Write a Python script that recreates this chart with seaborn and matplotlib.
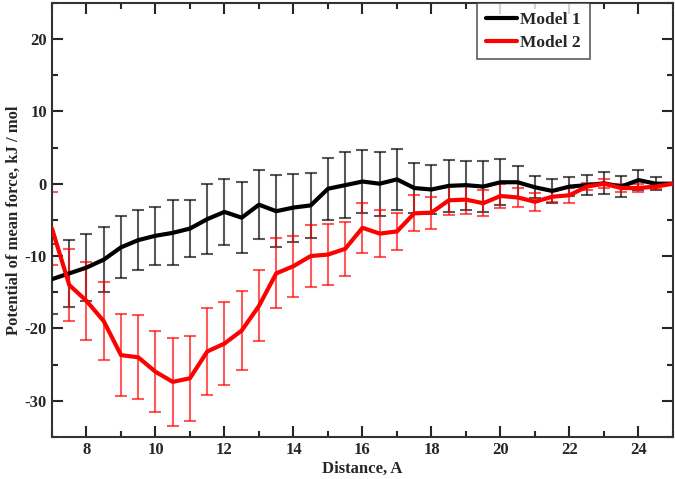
import numpy as np
import pandas as pd
import matplotlib
matplotlib.use("Agg")
import matplotlib.pyplot as plt
import seaborn as sns
from matplotlib.ticker import MultipleLocator

# distance grid, A
distance = np.arange(7.0, 25.01, 0.5)

# Model 1 mean and error
model1 = [-13.2, -12.4, -11.6, -10.5, -8.8, -7.8, -7.2, -6.8, -6.2, -4.9, -3.9, -4.7, -2.9,
          -3.8, -3.3, -3.0, -0.7, -0.2, 0.3, 0.0, 0.6, -0.6, -0.8, -0.3, -0.2, -0.4,
          0.2, 0.2, -0.5, -1.0, -0.4, -0.2, 0.05, -0.4, 0.5, 0.0, 0.0]
model1_err = [4.8, 4.6, 4.6, 4.5, 4.3, 4.2, 4.0, 4.5, 4.0, 4.8, 4.6, 4.9, 4.8,
              5.0, 4.7, 4.5, 4.3, 4.6, 4.3, 4.4, 4.2, 3.5, 3.4, 3.6, 3.4, 3.5,
              3.2, 2.2, 1.5, 1.6, 1.3, 1.4, 1.5, 1.5, 1.4, 0.9, 0.0]

# Model 2 mean and error
model2 = [-6.2, -14.0, -16.2, -19.0, -23.7, -24.0, -26.0, -27.4, -26.9, -23.2, -22.1, -20.3, -16.9,
          -12.4, -11.4, -10.0, -9.8, -9.0, -6.1, -6.9, -6.6, -4.1, -4.0, -2.3, -2.2, -2.7,
          -1.7, -1.9, -2.5, -1.8, -1.6, -0.4, 0.0, -0.6, -0.6, -0.4, 0.0]
model2_err = [5.0, 5.0, 5.4, 5.4, 5.7, 5.8, 5.6, 6.1, 5.9, 6.0, 5.7, 5.4, 4.9,
              4.85, 4.2, 4.3, 4.2, 3.7, 3.5, 3.2, 2.5, 2.5, 2.2, 2.0, 2.0, 1.8,
              1.65, 1.3, 1.25, 0.75, 1.0, 0.5, 0.6, 0.5, 0.6, 0.4, 0.0]

df = pd.DataFrame({
    "Distance": np.concatenate([distance, distance]),
    "PMF": np.concatenate([model1, model2]),
    "err": np.concatenate([model1_err, model2_err]),
    "Model": ["Model 1"] * len(distance) + ["Model 2"] * len(distance),
})
colors = {"Model 1": "black", "Model 2": "red"}

sns.set_style("ticks")
plt.rcParams["font.family"] = ["Liberation Serif", "DejaVu Serif"]
plt.rcParams["font.weight"] = "bold"
plt.rcParams["axes.unicode_minus"] = False

fig = plt.figure(figsize=(6.75, 4.79), dpi=100)
ax = fig.add_axes([0.077, 0.088, 0.92, 0.906])

for name, sub in df.groupby("Model"):
    ax.errorbar(sub["Distance"], sub["PMF"], yerr=sub["err"], fmt="none",
                ecolor=colors[name], elinewidth=1.5, capsize=4, capthick=1.5,
                alpha=0.65, zorder=2)

sns.lineplot(data=df, x="Distance", y="PMF", hue="Model", palette=colors,
             linewidth=3, ax=ax, zorder=3)

ax.set_xlim(7, 25)
ax.set_ylim(-35, 25)
ax.xaxis.set_major_locator(MultipleLocator(2))
ax.xaxis.set_minor_locator(MultipleLocator(1))
ax.yaxis.set_major_locator(MultipleLocator(10))
ax.yaxis.set_minor_locator(MultipleLocator(5))
ax.tick_params(which="both", direction="in", top=True, right=True, width=1.5,
               labelsize=12)
ax.tick_params(which="major", length=8)
ax.tick_params(which="minor", length=4)
for s in ax.spines.values():
    s.set_linewidth(1.5)
    s.set_color("#333333")

ax.set_xlabel("Distance, A", fontsize=12, fontweight="bold", labelpad=2)
ax.set_ylabel("Potential of mean force, kJ / mol", fontsize=12, fontweight="bold", labelpad=2)

leg = ax.legend(loc="upper right", bbox_to_anchor=(0.866, 1.0), borderaxespad=0,
                fancybox=False, edgecolor="#333333", handlelength=1.8,
                handletextpad=0.2, fontsize=12.5, borderpad=0.5, labelspacing=0.4)
leg.get_frame().set_linewidth(1.2)
leg.set_title(None)

fig.savefig("out.png", dpi=100)
